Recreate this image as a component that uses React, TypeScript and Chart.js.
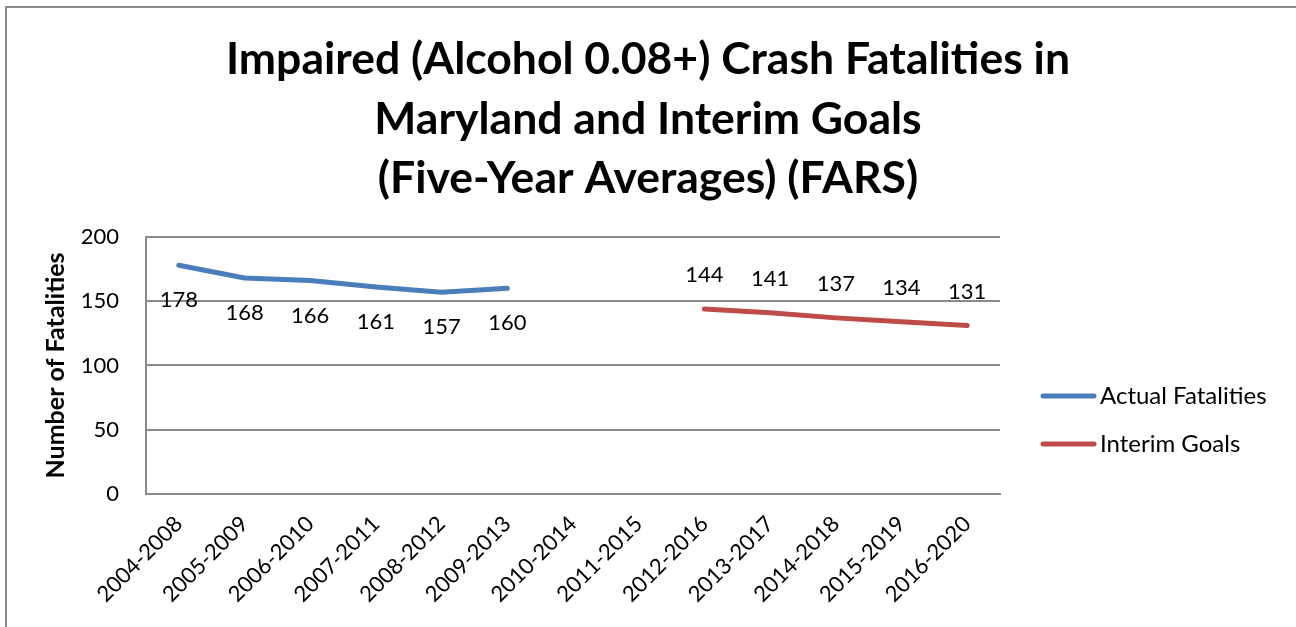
import React, { useEffect, useRef } from "react";
import { Chart, registerables } from "chart.js";

Chart.register(...registerables);

const categories = [
  "2004-2008",
  "2005-2009",
  "2006-2010",
  "2007-2011",
  "2008-2012",
  "2009-2013",
  "2010-2014",
  "2011-2015",
  "2012-2016",
  "2013-2017",
  "2014-2018",
  "2015-2019",
  "2016-2020",
];
const actualFatalities = [178, 168, 166, 161, 157, 160, null, null, null, null, null, null, null];
const interimGoals = [null, null, null, null, null, null, null, null, 144, 141, 137, 134, 131];
const seriesLabels = ["Actual Fatalities", "Interim Goals"];
const seriesColors = ["#4A7EBB", "#BE4B48"];
const titleLines = [
  "Impaired (Alcohol 0.08+) Crash Fatalities in",
  "Maryland and Interim Goals",
  "(Five-Year Averages) (FARS)",
];
const yAxisTitle = "Number of Fatalities";
const yMin = 0;
const yMax = 200;
const yStep = 50;

const FONT = "Lato";

const dataLabelPlugin = {
  id: "dataLabels",
  afterDatasetsDraw(chart: any) {
    const ctx = chart.ctx;
    ctx.save();
    ctx.font = `22px ${FONT}`;
    ctx.fillStyle = "#000";
    ctx.textAlign = "center";
    ctx.textBaseline = "middle";
    chart.data.datasets.forEach((ds: any, di: number) => {
      const meta = chart.getDatasetMeta(di);
      const off = di === 0 ? 35 : -34;
      meta.data.forEach((pt: any, i: number) => {
        const v = ds.data[i];
        if (v === null || v === undefined) return;
        ctx.fillText(String(v), pt.x, pt.y + off);
      });
    });
    ctx.restore();
  },
};

const sideLegendPlugin = {
  id: "sideLegend",
  afterDraw(chart: any) {
    const ctx = chart.ctx;
    ctx.save();
    ctx.font = `24px ${FONT}`;
    ctx.textAlign = "left";
    ctx.textBaseline = "middle";
    chart.data.datasets.forEach((ds: any, di: number) => {
      const y = 396 + di * 48;
      ctx.strokeStyle = ds.borderColor;
      ctx.lineWidth = 5;
      ctx.lineCap = "round";
      ctx.beginPath();
      ctx.moveTo(1043, y);
      ctx.lineTo(1094, y);
      ctx.stroke();
      ctx.fillStyle = "#000";
      ctx.fillText(ds.label, 1100, y);
    });
    ctx.restore();
  },
};

export default function App() {
  const ref = useRef<HTMLCanvasElement | null>(null);

  useEffect(() => {
    if (!ref.current) return;
    const chart = new Chart(ref.current, {
      type: "line",
      data: {
        labels: categories,
        datasets: [
          {
            label: seriesLabels[0],
            data: actualFatalities,
            borderColor: seriesColors[0],
            backgroundColor: seriesColors[0],
            borderWidth: 5,
            pointRadius: 0,
            borderCapStyle: "round",
            borderJoinStyle: "round",
            tension: 0,
            spanGaps: false,
          },
          {
            label: seriesLabels[1],
            data: interimGoals,
            borderColor: seriesColors[1],
            backgroundColor: seriesColors[1],
            borderWidth: 5,
            pointRadius: 0,
            borderCapStyle: "round",
            borderJoinStyle: "round",
            tension: 0,
            spanGaps: false,
          },
        ],
      },
      options: {
        animation: false,
        responsive: false,
        layout: { padding: { left: 0, right: 0, top: 0, bottom: 0 } },
        plugins: {
          legend: { display: false },
          tooltip: { enabled: false },
          title: {
            display: true,
            text: titleLines,
            color: "#000",
            font: { family: FONT, size: 44.5, weight: "bold", lineHeight: 1.34 },
            padding: { top: 30, bottom: 28 },
          },
        },
        scales: {
          x: {
            offset: true,
            grid: { display: false, drawTicks: false },
            border: { display: true, color: "#8a8a8a", width: 2 },
            ticks: {
              color: "#000",
              font: { family: FONT, size: 22 },
              minRotation: 45,
              maxRotation: 45,
              padding: 17,
              autoSkip: false,
            },
            afterFit(scale: any) {
              scale.height = 133;
            },
          },
          y: {
            min: yMin,
            max: yMax,
            grid: { color: "#8a8a8a", lineWidth: 2, drawTicks: false },
            border: { display: true, color: "#8a8a8a", width: 2 },
            ticks: {
              stepSize: yStep,
              color: "#000",
              font: { family: FONT, size: 22 },
              padding: 27,
            },
            title: {
              display: true,
              text: yAxisTitle,
              color: "#000",
              font: { family: FONT, size: 25, weight: "bold" },
              padding: { top: 41, bottom: 0 },
            },
            afterFit(scale: any) {
              scale.width = 146;
            },
          },
          yRightSpace: {
            position: "right",
            display: true,
            grid: { display: false, drawTicks: false },
            border: { display: false },
            ticks: { display: false },
            afterFit(scale: any) {
              scale.width = 296;
            },
          },
        },
      },
      plugins: [dataLabelPlugin, sideLegendPlugin],
    } as any);
    return () => chart.destroy();
  }, []);

  return (
    <div style={{ position: "fixed", left: 0, top: 0, width: 1296, height: 627, background: "#fff", overflow: "hidden" }}>
      <div
        style={{
          position: "absolute",
          left: 5,
          top: 6,
          width: 1400,
          height: 800,
          borderLeft: "2px solid #8a8a8a",
          borderTop: "2px solid #8a8a8a",
        }}
      />
      <canvas ref={ref} width={1296} height={627} style={{ position: "absolute", left: 0, top: 0 }} />
    </div>
  );
}
